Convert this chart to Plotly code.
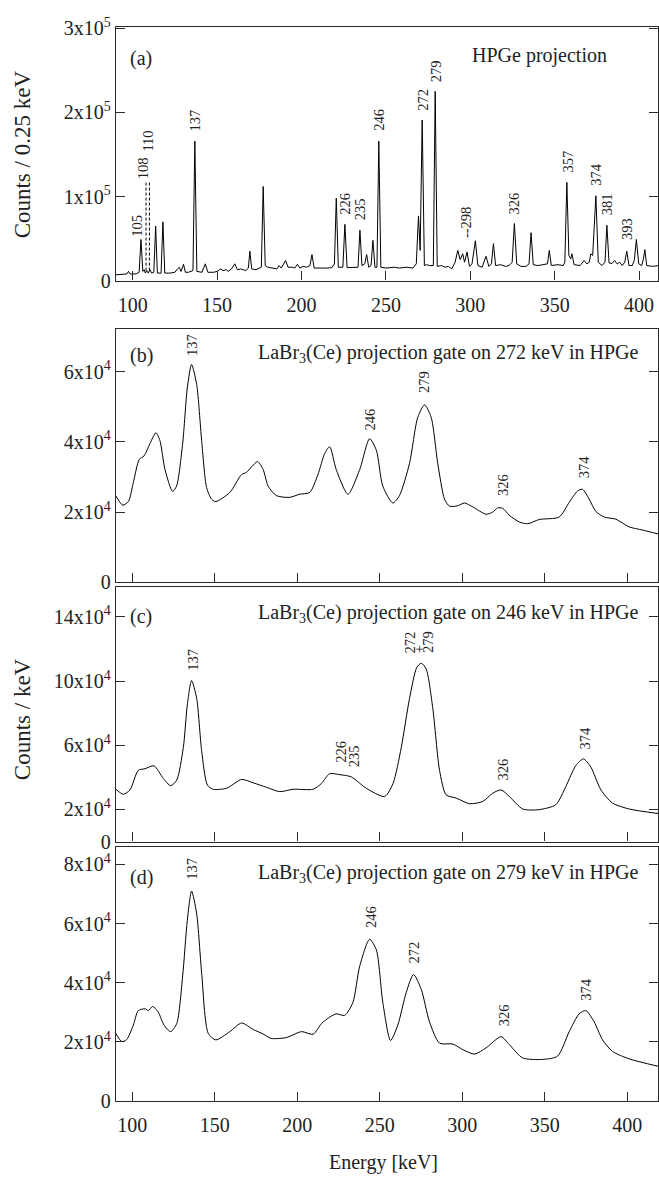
import plotly.graph_objects as go

# ---------------- (a) HPGe projection: energy [keV] vs counts / 0.25 keV ----------------
e_a = [90, 94, 96.5, 97.5, 98.5, 102, 103.8, 104.9, 106, 106.8, 107.5, 108.3, 109.2, 110.2,
       111.2, 112.5, 113.6, 114.6, 116.8, 117.9, 119, 122, 125, 126.5, 127.6, 128.6, 130.1,
       131.2, 133, 135.7, 136.8, 138, 141, 143, 144.5, 148, 150, 152.2, 153.5, 155.5, 156.5,
       158.5, 160.5, 162, 164, 167, 168.5, 169.4, 170.5, 173, 176.2, 177.3, 178.5, 180, 183,
       185.5, 186.7, 188, 190.6, 192, 194.5, 196, 197.6, 199, 201, 203, 205, 206.2, 207.5,
       212, 215, 218, 219.5, 220.6, 221.8, 224.5, 225.7, 227, 233.5, 234.6, 235.8, 237.5,
       238.6, 239.8, 241.2, 242.3, 243.5, 244.7, 245.8, 247, 250, 255, 258, 262, 266, 268,
       269.3, 270.3, 271.5, 272.8, 274, 276, 278.1, 279.2, 280.4, 283, 285, 287, 289, 291,
       292.6, 294, 295.5, 296.6, 298.1, 299.5, 301, 303, 304.5, 307, 309.3, 311, 312.5,
       313.7, 315, 318, 321, 323, 324.8, 326.1, 327.5, 330, 333, 334.8, 336, 337.3, 340, 343,
       345.7, 346.8, 348, 352, 355, 356, 357.2, 358.4, 359.5, 360.2, 361.5, 365, 367.5, 369,
       370.5, 371.4, 372.5, 374.4, 375.8, 378, 379.8, 380.9, 382.2, 384, 385.5, 387, 388.5,
       390, 391.5, 392.7, 394, 396, 397.2, 398.4, 399.8, 401.5, 402.5, 403.4, 404.5, 408, 411.5]
c_a = [7, 7.5, 8, 11, 8, 8, 10, 49, 11, 13, 9, 12, 9, 13,
       9, 10, 65, 9, 9, 70, 9, 9, 10, 14, 16, 11, 19.5,
       10, 10, 12, 166, 11, 10, 20, 10, 10, 11, 14, 12, 13, 11,
       14, 20, 13, 14, 12, 15, 35, 14, 13, 16, 112, 18, 16, 15,
       14, 18, 15, 24, 16, 16, 15, 19.5, 15, 17, 16, 18, 31, 15,
       14.5, 15, 15.5, 20, 98, 16, 16, 67, 15.5, 16, 60, 18, 20,
       31, 16, 18, 48, 16, 16, 166, 16, 15, 16, 15, 16, 15, 20,
       77, 36, 191, 18, 19, 18, 18, 225, 17, 18, 16, 17, 14, 22,
       36, 25, 32, 22, 34, 17, 20, 47.5, 18, 16, 29, 17, 20,
       44, 18, 19, 17, 18, 22, 68, 20, 17, 17, 20, 57, 19, 18, 19,
       20, 36, 18, 19, 18, 22, 117, 30, 26, 32, 19, 18, 24, 20,
       22, 32, 30, 101, 22, 18, 22, 66, 21, 20.5, 24, 20, 22,
       18, 22, 35, 18, 18, 25, 49, 20, 18, 25, 37, 18, 17, 18]
c_a = [v * 1e3 for v in c_a]

# ---------------- (b) LaBr3(Ce) gated on 272 keV: counts / keV ----------------
e_b = [90, 94.2, 97.6, 100.6, 104.2, 107.1, 110.7, 114.3, 116.7, 119.8, 124.4, 126.8, 130.5,
       133.3, 135.9, 139, 142, 145, 148, 150.6, 159.1, 166.2, 169.2, 172.5, 175.9, 179.3,
       182.3, 187.3, 195.4, 201.4, 207.5, 212.5, 216.6, 219.6, 223.6, 230.7, 237.8, 243.8,
       247.9, 251.8, 257.9, 261.9, 268, 273, 277.1, 281.1, 285.1, 289.2, 292.2, 297.2,
       301.3, 306.3, 314.4, 318.4, 321.4, 324.4, 328.5, 334.5, 339.6, 346.6, 358.7, 364.8,
       369.8, 372.8, 376.9, 380.9, 386, 393, 401.1, 409.2, 418.6]
c_b = [24.6, 22.0, 23.0, 28.4, 35.0, 36.0, 39.5, 42.6, 40.4, 32.1, 25.9, 27.4, 39.5,
       55.3, 62.0, 56.3, 40.4, 27.0, 23.7, 23.0, 25.6, 30.7, 31.3, 33.0, 34.4, 32.1,
       27.4, 24.7, 24.2, 25.1, 25.6, 30.7, 36.7, 38.6, 32.1, 25.1, 32.1, 40.9,
       37.6, 27.4, 22.6, 24.7, 33.9, 47.0, 50.5, 47.0, 33.9, 23.7, 21.7, 21.8,
       22.6, 21.5, 19.4, 20.0, 21.2, 21.1, 19.1, 17.2, 16.7, 17.9, 18.6, 22.8,
       26.0, 26.5, 23.7, 20.2, 18.6, 18.0, 15.8, 14.9, 13.8]
c_b = [v * 1e3 for v in c_b]

# ---------------- (c) LaBr3(Ce) gated on 246 keV ----------------
e_c = [90, 94.6, 98.6, 103.6, 107.7, 113.1, 118.8, 123.2, 126.9, 130.9, 133.3, 135.9, 139,
       142, 145.5, 149, 157.1, 166.2, 173.3, 181.3, 189.4, 197.4, 209.6, 214.6, 219.6,
       225.6, 232.7, 241.8, 252.9, 258, 263, 268, 272.4, 275.1, 278.1, 282.1, 286.2, 290.2,
       296.3, 304.3, 312.4, 318.4, 323.5, 328.5, 336.6, 346.6, 356.7, 362.7, 368.8, 373.4,
       377.9, 384, 391, 401.1, 418.6]
c_c = [32.6, 29.5, 32.2, 44.4, 45.4, 47.2, 39.3, 34.8, 38.3, 58.6, 85.0, 100.3, 89.2,
       56.6, 35.2, 32.6, 33.2, 38.7, 36.6, 33.8, 31.1, 32.6, 32.6, 36.2, 42.3,
       41.7, 40.3, 33.2, 28.1, 36.2, 58.6, 89.2, 108.5, 111.1, 107.5, 83.0, 44.4, 29.1,
       27.1, 23.6, 25.0, 30.1, 32.2, 28.1, 20.3, 19.9, 23.0, 34.2, 47.4, 51.5,
       46.4, 32.2, 24.0, 20.3, 17.5]
c_c = [v * 1e3 for v in c_c]

# ---------------- (d) LaBr3(Ce) gated on 279 keV ----------------
e_d = [90, 93.6, 96.6, 100.6, 103.6, 107.7, 109.7, 112.3, 115.7, 119.2, 123.2, 126.9, 130.5,
       133.3, 135.9, 139, 142, 146, 150.6, 159.1, 166.2, 173.3, 179.3, 184.1, 193.5, 202.5,
       209.6, 214.6, 219.6, 223.6, 228.7, 233.7, 237.8, 243.8, 247.9, 251.8, 256.5, 260.9,
       266, 270.4, 275.1, 280.1, 286.2, 294.3, 300.3, 307.4, 314.4, 323.5, 328.5, 336.6,
       348.7, 357.7, 364.8, 370.8, 374.9, 379.9, 385, 391, 401.1, 418.6]
c_d = [22.9, 20.1, 20.8, 25.7, 30.6, 31.2, 30.6, 32.0, 30.1, 25.7, 23.5, 26.2, 42.3,
       61.0, 71.0, 63.3, 43.4, 22.9, 20.7, 23.5, 26.4, 24.2, 22.7, 21.2, 21.5, 23.5,
       22.6, 26.2, 28.4, 29.5, 29.0, 33.4, 45.6, 54.7, 51.1, 33.4, 20.5, 25.7,
       36.7, 42.8, 37.8, 26.8, 19.6, 19.3, 17.4, 15.9, 18.0, 21.8, 19.1, 14.6,
       14.1, 15.2, 23.5, 29.5, 30.6, 26.8, 20.7, 16.8, 14.3, 11.8]
c_d = [v * 1e3 for v in c_d]

# ---------------- peak labels: (text, energy, count at label foot) ----------------
lab_a = [("105", 102.5, 51e3), ("108", 105.9, 119e3), ("110", 109.2, 152e3),
         ("137", 136.8, 176e3), ("226", 225.6, 77e3), ("235", 234.8, 71e3),
         ("246", 245.8, 177e3), ("272", 271.5, 201e3), ("279", 279.8, 235e3),
         ("--298", 297.5, 49e3), ("326", 326.1, 78e3), ("357", 357.6, 127e3),
         ("374", 374.4, 112e3), ("381", 381.2, 77e3), ("393", 392.7, 47e3)]
lab_b = [("137", 136.5, 64e3), ("246", 244.2, 43e3), ("279", 277.1, 53.5e3),
         ("326", 325.0, 24.2e3), ("374", 373.9, 29.3e3)]
lab_c = [("137", 136.9, 106e3), ("226", 226.4, 48.4e3), ("235", 234.1, 45.4e3),
         ("272", 268.3, 116.6e3), ("+", 273.7, 116.6e3), ("279", 279.6, 116.6e3),
         ("326", 324.5, 37.3e3), ("374", 374.5, 56.6e3)]
lab_d = [("137", 136.5, 74.3e3), ("246", 244.2, 58.3e3), ("272", 271.0, 46.3e3),
         ("326", 325.0, 24.8e3), ("374", 374.9, 33.7e3)]

# dashed leader lines for the 108 / 110 keV doublet: (energy, low, high)
leaders_a = [(107.9, 12e3, 119e3), (109.9, 12e3, 119e3)]

# axis ticks
yt_a = [0, 1e5, 2e5, 3e5]
yt_a_txt = ["0", "1x10<sup>5</sup>", "2x10<sup>5</sup>", "3x10<sup>5</sup>"]
yt_b = [0, 2e4, 4e4, 6e4]
yt_b_txt = ["0", "2x10<sup>4</sup>", "4x10<sup>4</sup>", "6x10<sup>4</sup>"]
yt_c = [0, 2e4, 6e4, 10e4, 14e4]
yt_c_txt = ["0", "2x10<sup>4</sup>", "6x10<sup>4</sup>", "10x10<sup>4</sup>", "14x10<sup>4</sup>"]
yt_d = [0, 2e4, 4e4, 6e4, 8e4]
yt_d_txt = ["0", "2x10<sup>4</sup>", "4x10<sup>4</sup>", "6x10<sup>4</sup>", "8x10<sup>4</sup>"]
xt = [100, 150, 200, 250, 300, 350, 400]

FONT = "Liberation Serif, Times New Roman, serif"
FRAME = "#2a2a2a"
H = 1185.0


def ydom(top_px, bottom_px):
    return [1 - bottom_px / H, 1 - top_px / H]


fig = go.Figure()

panels = [
    ("", e_a, c_a, "linear"),
    ("2", e_b, c_b, "spline"),
    ("3", e_c, c_c, "spline"),
    ("4", e_d, c_d, "spline"),
]
for suf, ex, cy, shape in panels:
    fig.add_trace(go.Scatter(
        x=ex, y=cy, mode="lines", xaxis="x" + suf, yaxis="y" + suf,
        line=dict(color="black", width=1, shape=shape,
                  **({"smoothing": 0.7} if shape == "spline" else {})),
        showlegend=False, hoverinfo="skip"))

for en, lo, hi in leaders_a:
    fig.add_trace(go.Scatter(
        x=[en, en], y=[lo, hi], mode="lines", xaxis="x", yaxis="y",
        line=dict(color="black", width=1, dash="3px,2px"),
        showlegend=False, hoverinfo="skip"))

common_x = dict(showline=True, linecolor=FRAME, linewidth=1.4, mirror=True,
                ticks="inside", ticklen=9, tickwidth=1.2, tickcolor=FRAME,
                tickvals=xt, ticktext=[str(v) for v in xt], showgrid=False, zeroline=False,
                tickfont=dict(family=FONT, size=20, color="#222"))
common_y = dict(showline=True, linecolor=FRAME, linewidth=1.4, mirror="allticks",
                ticks="inside", ticklen=9, tickwidth=1.2, tickcolor=FRAME,
                showgrid=False, zeroline=False,
                tickfont=dict(family=FONT, size=20, color="#222"))

layout = dict(
    width=659, height=1185,
    margin=dict(l=116, r=0, t=0, b=0),
    paper_bgcolor="white", plot_bgcolor="white",
    font=dict(family=FONT, color="#222"),
    xaxis=dict(common_x, domain=[0, 1], range=[90.1, 411.2], anchor="y",
               showticklabels=True, ticklabelstandoff=6),
    yaxis=dict(common_y, domain=ydom(15, 274), range=[0, 3.02e5], anchor="x",
               tickvals=yt_a, ticktext=yt_a_txt),
    xaxis2=dict(common_x, domain=[0, 1], range=[90.1, 418.6], anchor="y2",
                showticklabels=False),
    yaxis2=dict(common_y, domain=ydom(323.3, 581.7), range=[0, 7.21e4], anchor="x2",
                tickvals=yt_b, ticktext=yt_b_txt),
    xaxis3=dict(common_x, domain=[0, 1], range=[90.1, 418.6], anchor="y3",
                showticklabels=False),
    yaxis3=dict(common_y, domain=ydom(586.7, 846), range=[0, 15.84e4], anchor="x3",
                tickvals=yt_c, ticktext=yt_c_txt),
    xaxis4=dict(common_x, domain=[0, 1], range=[90.1, 418.6], anchor="y4",
                showticklabels=True, ticklabelstandoff=6),
    yaxis4=dict(common_y, domain=ydom(851.2, 1110.7), range=[0, 8.6e4], anchor="x4",
                tickvals=yt_d, ticktext=yt_d_txt),
)
fig.update_layout(**layout)

ann = []
for suf, labs in [("", lab_a), ("2", lab_b), ("3", lab_c), ("4", lab_d)]:
    for txt, en, cnt in labs:
        ann.append(dict(text=txt, x=en, y=cnt, xref="x" + suf, yref="y" + suf,
                        textangle=-90, xanchor="center", yanchor="bottom",
                        showarrow=False, borderpad=0,
                        font=dict(family=FONT, size=14.5, color="#222")))


def px_x(px):
    return (px - 116) / 543.0


def px_y(py):
    return 1 - py / H


# panel tags and titles
for tag, py in [("(a)", 47.5), ("(b)", 350), ("(c)", 616.7), ("(d)", 883)]:
    ann.append(dict(text=tag, x=px_x(128), y=px_y(py), xref="paper", yref="paper",
                    xanchor="left", yanchor="middle", showarrow=False,
                    font=dict(family=FONT, size=20, color="#222")))
ann.append(dict(text="HPGe projection", x=px_x(610), y=px_y(44), xref="paper", yref="paper",
                xanchor="right", yanchor="middle", showarrow=False,
                font=dict(family=FONT, size=20, color="#222")))
for gate, py in [("272", 348.5), ("246", 613.5), ("279", 878.5)]:
    ann.append(dict(text="LaBr<sub>3</sub>(Ce) projection gate on %s keV in HPGe" % gate,
                    x=px_x(642), y=px_y(py), xref="paper", yref="paper",
                    xanchor="right", yanchor="middle", showarrow=False,
                    font=dict(family=FONT, size=20, color="#222")))

# axis titles
ann.append(dict(text="Counts / 0.25 keV", x=px_x(22), y=px_y(145), xref="paper", yref="paper",
                textangle=-90, xanchor="center", yanchor="middle", showarrow=False,
                font=dict(family=FONT, size=23, color="#222")))
ann.append(dict(text="Counts / keV", x=px_x(22), y=px_y(721), xref="paper", yref="paper",
                textangle=-90, xanchor="center", yanchor="middle", showarrow=False,
                font=dict(family=FONT, size=23, color="#222")))
ann.append(dict(text="Energy [keV]", x=px_x(384), y=px_y(1173), xref="paper", yref="paper",
                xanchor="center", yanchor="middle", showarrow=False,
                font=dict(family=FONT, size=20, color="#222")))

fig.update_layout(annotations=ann)
fig.write_html("out.html")
